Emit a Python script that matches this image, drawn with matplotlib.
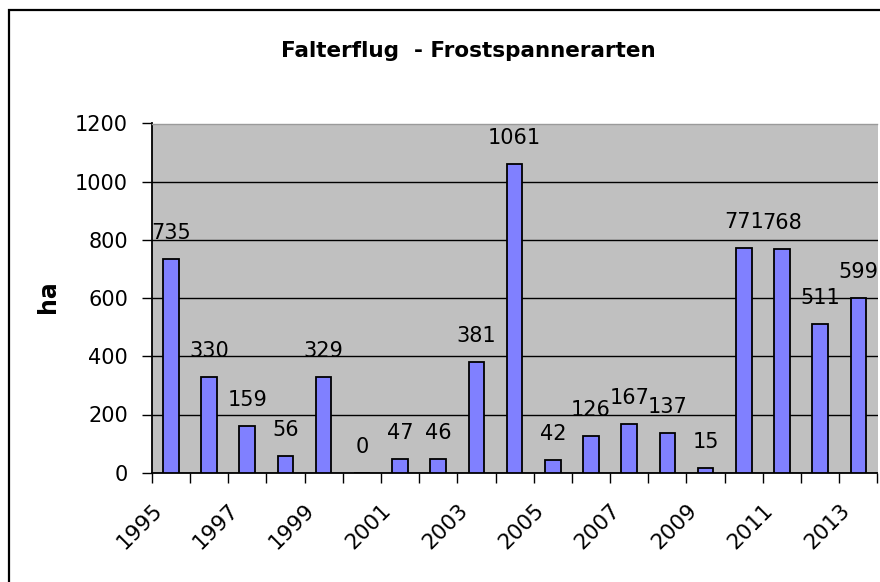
import matplotlib
matplotlib.use("Agg")
import matplotlib.pyplot as plt
import matplotlib.transforms as mtransforms
from matplotlib.patches import Rectangle

# Falterflug der Frostspannerarten, Fläche in ha
years = ["1995", "1996", "1997", "1998", "1999", "2000", "2001", "2002",
         "2003", "2004", "2005", "2006", "2007", "2008", "2009", "2010",
         "2011", "2012", "2013"]
hectares = [735, 330, 159, 56, 329, 0, 47, 46, 381, 1061, 42, 126, 167,
            137, 15, 771, 768, 511, 599]
y_ticks = [0, 200, 400, 600, 800, 1000, 1200]

W, H = 880, 582
fig = plt.figure(figsize=(W / 100, H / 100), dpi=100)
fig.patch.set_facecolor("white")

# plot area in pixel coords of the reference
left, right, top, bottom = 151.7, 877.5, 123.5, 472.7
ax = fig.add_axes([left / W, 1 - bottom / H, (right - left) / W, (bottom - top) / H])
ax.set_facecolor("#c0c0c0")

x = list(range(len(years)))
ax.bar(x, hectares, width=0.41, color="#8080ff", edgecolor="black",
       linewidth=1.3, zorder=3)

ax.set_xlim(-0.5, len(years) - 0.5)
ax.set_ylim(0, 1200)

# horizontal grid lines
ax.set_yticks(y_ticks)
ax.yaxis.grid(True, color="black", linewidth=1.0, zorder=1)
ax.set_axisbelow(True)
ax.tick_params(axis="y", direction="out", length=7, width=1.0, pad=10,
               labelsize=15, colors="black")

# category boundaries get the tick marks, every second year a label
ax.set_xticks([i - 0.5 for i in range(len(years) + 1)], minor=True)
ax.set_xticks(x[::2])
ax.set_xticklabels(years[::2], rotation=45, ha="right", va="center",
                   rotation_mode="anchor")
ax.tick_params(axis="x", which="minor", direction="out", length=7, width=1.0)
ax.tick_params(axis="x", which="major", length=0, pad=25, labelsize=15.5)
shift = mtransforms.ScaledTranslation(-12 / 100, 0, fig.dpi_scale_trans)
for lbl in ax.get_xticklabels():
    lbl.set_transform(lbl.get_transform() + shift)

for s in ["left", "bottom"]:
    ax.spines[s].set_color("black")
    ax.spines[s].set_linewidth(1.3)
ax.spines["right"].set_visible(False)
ax.spines["top"].set_color("#9a9a9a")
ax.spines["top"].set_linewidth(1.0)

# value labels above the bars
for xi, v in zip(x, hectares):
    ax.annotate(str(v), (xi, v), xytext=(0, 14.5), textcoords="offset points",
                ha="center", va="baseline", fontsize=15, zorder=5,
                annotation_clip=False)

fig.text(468 / W, 1 - 57 / H, "Falterflug  - Frostspannerarten",
         ha="center", va="baseline", fontsize=15.5, fontweight="bold")
fig.text(48 / W, 1 - 297 / H, "ha", rotation=90, ha="center", va="center",
         fontsize=17, fontweight="bold")

# outer chart frame (cut off at the right and bottom in the original)
fig.patches.append(Rectangle((8.5 / W, -0.2), 1.5, 1.2 - 10 / H,
                             transform=fig.transFigure, fill=False,
                             edgecolor="black", linewidth=1.6))

fig.savefig("out.png", dpi=100)
